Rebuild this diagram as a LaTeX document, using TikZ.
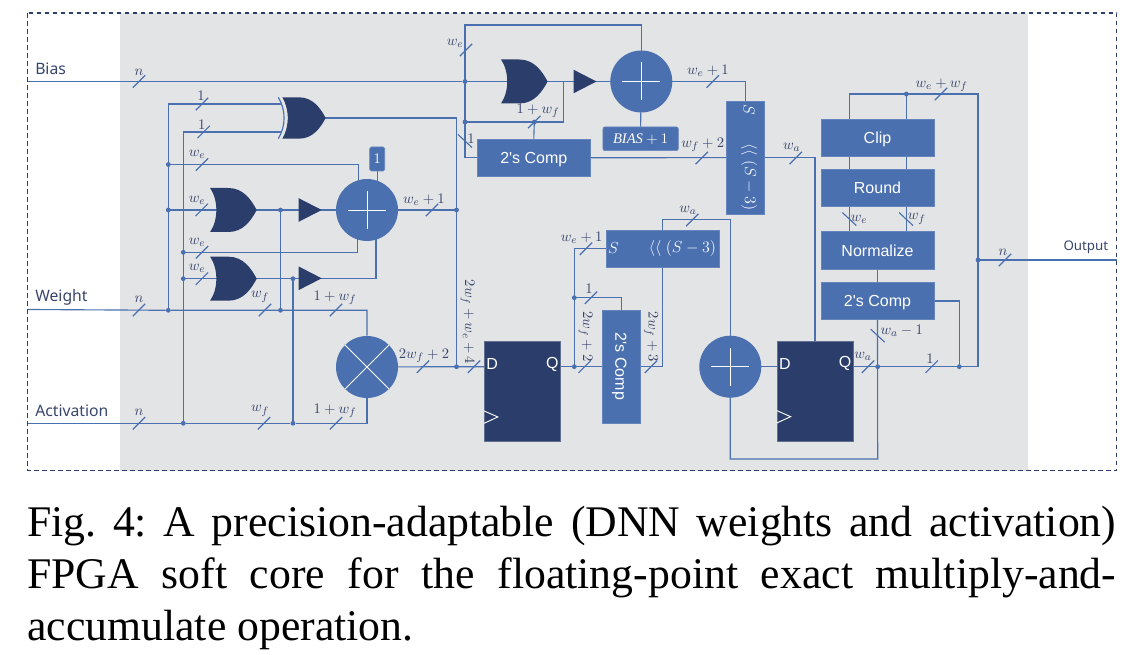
\documentclass[tikz,border=0pt]{standalone}
\usepackage{fontspec}
\setmainfont{Liberation Serif}
\newfontfamily\boxfont{Liberation Sans}
\newfontfamily\portfont{Noto Sans}
\usetikzlibrary{calc}
\definecolor{wireblue}{HTML}{4A70B0}
\definecolor{navy}{HTML}{2B3D6B}
\definecolor{panel}{HTML}{E3E4E6}
\definecolor{inktext}{HTML}{38456B}
\pgfdeclarelayer{bg}
\pgfsetlayers{bg,main}
\newcounter{labno}
\newcommand{\buslabel}[3]{\stepcounter{labno}\node[lbl] (lab\arabic{labno}) at (#1,#2) {$#3$};}
\newcommand{\rotlabel}[3]{\stepcounter{labno}\node[lbl,rotate=-90] (lab\arabic{labno}) at (#1,#2) {$#3$};}
\newcommand{\fw}[2]{\draw[tick] (#1,#2) +(-6.2,6.2) -- +(6.2,-6.2);}
\newcommand{\bw}[2]{\draw[tick] (#1,#2) +(-7,-6.5) -- +(7,6.5);}
\newcommand{\orgate}[3]{\node[gatebox] (#1) at (#2,#3) {};
  \fill[navy,shift={(#1.center)}] (-23.3,-22) -- (-5,-22) .. controls (10,-22) and (18,-10) .. (23.3,0)
    .. controls (18,10) and (10,22) .. (-5,22) -- (-23.3,22) .. controls (-15,10) and (-15,-10) .. (-23.3,-22) -- cycle;}
\newcommand{\buffer}[3]{\coordinate (#1) at (#2,#3);
  \fill[navy] (#1) +(-11.5,-11.8) -- +(11.5,0) -- +(-11.5,11.8) -- cycle;}
\newcommand{\addernode}[3]{\node[roundop] (#1) at (#2,#3) {};
  \draw[glyph] (#1.center) +(-19,0) -- +(19,0) (#1.center) +(0,-19) -- +(0,19);}
\newcommand{\flipflop}[3]{\node[ffbox] (#1) at (#2,#3) {};
  \node[ffpin,anchor=west] (#1d) at ($(#1.north west)+(2,22.5)$) {D};
  \node[ffpin,anchor=east] (#1q) at ($(#1.north east)+(-1.5,22.5)$) {Q};
  \draw[glyph] ($(#1.south west)+(0,-31)$) -- ($(#1.south west)+(13.7,-25)$) -- ($(#1.south west)+(0,-18.7)$);}
\tikzset{
  wire/.style={draw=wireblue,line width=0.85pt},
  tick/.style={draw=wireblue,line width=0.85pt},
  dot/.style={circle,fill=wireblue,inner sep=0pt,minimum size=3.6pt},
  lbl/.style={inner sep=0pt,text=inktext,font=\fontsize{10.95}{13}\selectfont},
  mathwhite/.style={inner sep=0pt,text=white,font=\fontsize{12}{14}\selectfont},
  bluebox/.style={rectangle,fill=wireblue,draw=wireblue!85!white,line width=0.5pt,inner sep=0pt,text=white,
     font=\boxfont\fontsize{12}{14}\selectfont},
  blockh/.style={bluebox,minimum width=84.75pt,minimum height=28.2pt,text height=8.6pt,text depth=0pt},
  blockv/.style={bluebox,minimum width=28.2pt,minimum height=84.75pt},
  roundop/.style={circle,fill=wireblue,inner sep=0pt,minimum size=46.5pt},
  glyph/.style={draw=white,line width=0.7pt},
  gatebox/.style={rectangle,inner sep=0pt,minimum width=35pt,minimum height=33pt},
  ffbox/.style={rectangle,fill=navy,draw=navy!70!panel,line width=0.4pt,inner sep=0pt,minimum width=56.7pt,minimum height=75pt},
  ffpin/.style={inner sep=0pt,text=white,font=\boxfont\fontsize{12}{14}\selectfont},
  port/.style={inner sep=0pt,text=inktext,font=\portfont\fontsize{11.8}{14}\selectfont},
}
\begin{document}
\begin{tikzpicture}[x=0.75pt,y=-0.75pt]
\useasboundingbox (0,0) rectangle (1140,655);
% named elements
\coordinate (inB) at (28,81.5);
\coordinate (inW) at (28,309.5);
\coordinate (inA) at (28,423.3);
\coordinate (outP) at (1116.7,260);
\coordinate (xinA) at (287,104);
\coordinate (xinB) at (287,132);
\coordinate (tl) at (849.7,94);
\coordinate (topB) at (465,25);
\coordinate (brO) at (563.7,81.5);
\coordinate (fb) at (877.7,459);
% junctions
\foreach \n/\a/\b in {dWa/168.3/310.3,dWb/280.5/310.3,dAa/183.3/423.3,dAb/293/423.3,
  dXa/168.3/164.5,dOa/168.3/210,dXb/183.3/252.3,dOb/183.3/278.7,dOaO/280.5/210,dObO/293/278.7,
  dAdd/456.5/210,dMul/456.5/366.7,dBa/465/81.5,dBb/465/122,dC/534.3/122,
  dQa/574.3/366.7,dQb/574.3/297.7,dT/906.3/94,dRa/877.7/366.7,dRb/959.3/366.7,dO/978/260}
  {\node[dot] (\n) at (\a,\b) {};}
% gates
\node[gatebox] (xor) at (303.7,118) {};
\fill[navy,shift={(xor.center)},xscale=0.944,yscale=0.94] (-23.3,-22) -- (-5,-22) .. controls (10,-22) and (18,-10) .. (23.3,0)
    .. controls (18,10) and (10,22) .. (-5,22) -- (-23.3,22) .. controls (-15,10) and (-15,-10) .. (-23.3,-22) -- cycle;
\orgate{orA}{233.4}{210}
\orgate{orB}{233.4}{278.7}
\orgate{orC}{524.3}{81.5}
\buffer{trA}{310.2}{210}
\buffer{trB}{310.2}{278.3}
\buffer{trC}{585}{81.5}
\addernode{addA}{367}{210}
\addernode{addB}{641.3}{81.5}
\addernode{addC}{730.3}{366.7}
\node[roundop] (mul) at (367,367) {};
\draw[glyph] (mul.north west) -- (mul.south east) (mul.north east) -- (mul.south west);
\flipflop{ffA}{522.2}{391.7}
\flipflop{ffB}{815}{391.4}
% blocks
\node[blockh] (cmpA) at (533.8,157.8) {2's Comp};
\node[blockv] (cmpB) at (621.2,366.4) {};
\node[inner sep=0pt,text=white,font=\boxfont\fontsize{12}{14}\selectfont,rotate=-90,text height=8.6pt,text depth=0pt] (cmpBt) at (621.2,366.4) {2's Comp};
\node[blockh] (clip) at (877.5,137.8) {Clip};
\node[blockh] (round) at (877.5,187.8) {Round};
\node[blockh] (norm) at (877.5,250.6) {Normalize};
\node[blockh] (cmpC) at (877.5,301) {2's Comp};
\node[blockh] (shH) at (662.5,248.8) {};
\node[mathwhite] (shHs) at (613.5,248.5) {$S$};
\node[mathwhite] (shHt) at (682.5,248.5) {$\langle\langle\;(S-3)$};
\node[blockv] (shV) at (745.5,157.6) {};
\node[mathwhite,rotate=-90] (shVs) at (749,110) {$S$};
\node[mathwhite,rotate=-90] (shVt) at (749,177) {$\langle\langle\;(S-3)$};
\node[bluebox,rounded corners=1.5pt,minimum width=56.5pt,minimum height=17.8pt,font=\fontsize{10.95}{13}\selectfont] (bias) at (640.6,138.8) {$\mathit{BIAS}+1$};
\node[bluebox,rounded corners=1.2pt,minimum width=11.2pt,minimum height=18pt,font=\fontsize{10.95}{13}\selectfont] (one) at (377.2,159) {$1$};
% port names
\node[port,anchor=west] (pBias) at (35,68.5) {Bias};
\node[port,anchor=west] (pWeight) at (35,297) {Weight};
\node[port,anchor=west] (pAct) at (35,411) {Activation};
\node[port,anchor=east,font=\portfont\fontsize{10}{12}\selectfont] (pOut) at (1108.5,247) {Output};
% XOR input arc, above wires
\draw[draw=panel,line width=3pt] (280,97.3) .. controls (287.5,110) and (287.5,126) .. (280,138.7);
\draw[wire] (278.3,97.3) .. controls (286,110) and (286,126) .. (278.3,138.7);
\begin{pgfonlayer}{bg}
\fill[panel] (120,13) rectangle (1027.7,470.7);
\draw[navy,line width=0.85pt,dash pattern=on 3.4pt off 2.6pt] (27.7,13) rectangle (1116.7,470.7);
% left inputs
\draw[wire] (inW) -- (dWa) -- (dWb) -| (mul);
\draw[wire] (inA) -- (dAa) -- (dAb) -| (mul);
\draw[wire] (inB) -- (dBa);
\draw[wire] (dWa.center) |- (xinA);
\draw[wire] (dAa.center) |- (xinB);
\draw[wire] (xor.center) -| (dMul.center);
\draw[wire] (dXa.center) -| ($(addA.center)+(-8.7,0)$);
\draw[wire] (dXb.center) -| ($(addA.center)+(-9.7,0)$);
\draw[wire] (dOa.center) -- (orA.center) -- (trA) -- (addA.center) -- (dAdd.center);
\draw[wire] (dOaO.center) -- (dWb.center);
\draw[wire] (dOb.center) -- (orB.center) -- (trB |- orB.center) -| ($(addA.center)+(9,0)$);
\draw[wire] (dObO.center) -- (dAb.center);
\draw[wire] (one.south) -- (one.south |- addA.center);
\draw[wire] (mul.center) -- (dMul.center) -- (dMul -| ffA.west);
% top section
\draw[wire] (dBa.center) -- (orC.center) -- (trC) -- (addB.center);
\draw[wire] (dBa.center) -- (topB) -| (addB.center);
\draw[wire] (dBa.center) -- (dBb.center) |- (cmpA.west);
\draw[wire] (brO) |- (dBb.center);
\draw[wire] (dC.center) -- (cmpA.north);
\draw[wire] (addB.center) -- (bias.north);
\draw[wire] (addB.center) -| (shV.north);
\draw[wire] (cmpA.east) -- (shV.west);
\draw[wire] (shV.east) -| (ffB.north);
% middle
\draw[wire] (dQa -| ffA.east) -- (dQa.center) -- (dQa -| cmpB.west);
\draw[wire] (dQa.center) |- (shH.west);
\draw[wire] (dQb.center) -| (cmpB.north);
\draw[wire] (cmpB.east) -| (shH.south);
\draw[wire] (shH.north) -- ++(0,-10) -| (addC.center);
\draw[wire] (addC.center) -- (addC -| ffB.west);
% right
\draw[wire] (dRa -| ffB.east) -- (dRa.center) -- (dRb.center) -| (dO.center);
\draw[wire] (dO.center) |- (tl) -- (tl |- norm.north);
\draw[wire] (dT.center) -- (dT |- norm.north);
\draw[wire] (norm.south) -- (cmpC.north);
\draw[wire] (cmpC.south) -- (fb) -| (addC.center);
\draw[wire] (cmpC.east) -| (dRb.center);
\draw[wire] (dO.center) -- (outP);
\end{pgfonlayer}
% bus ticks and labels
\fw{139}{81.5}\buslabel{139}{72}{n}
\fw{139}{310}\buslabel{139}{299}{n}
\fw{139}{423.3}\buslabel{139}{412}{n}
\fw{202}{104}\buslabel{201}{96}{1}
\fw{203.7}{132}\buslabel{201.7}{125}{1}
\fw{202}{164.5}\buslabel{197}{154}{w_e}
\fw{201.7}{210}\buslabel{197}{200}{w_e}
\fw{202}{252.3}\buslabel{197}{242}{w_e}
\fw{202}{278.7}\buslabel{197}{268}{w_e}
\fw{265}{310}\buslabel{260}{297}{w_f}
\fw{336}{310}\buslabel{335}{298}{1+w_f}
\fw{264}{423.3}\buslabel{260}{411}{w_f}
\fw{336}{423.3}\buslabel{335}{411}{1+w_f}
\fw{432}{210}\buslabel{424}{200}{w_e+1}
\fw{423}{366.7}\buslabel{424}{356}{2w_f+2}
\fw{474}{366.7}\rotlabel{467.5}{322}{2w_f+w_e+4}
\fw{466}{50}\buslabel{455}{43}{w_e}
\bw{465}{141}\buslabel{471}{139}{1}
\fw{534.3}{122}\buslabel{538}{111}{1+w_f}
\fw{712.7}{81.5}\buslabel{708}{71}{w_e+1}
\fw{701.7}{158}\buslabel{702.7}{145}{w_f+2}
\fw{795.7}{158}\buslabel{791.7}{147}{w_a}
\fw{692.3}{220}\buslabel{688}{210}{w_a}
\fw{586}{248.7}\buslabel{581.7}{238}{w_e+1}
\fw{591}{297.7}\buslabel{589}{289}{1}
\fw{584.7}{366.7}\rotlabel{585.5}{336.5}{2w_f+2}
\fw{651}{366.7}\rotlabel{651}{337}{2w_f+3}
\fw{941}{94}\buslabel{941.7}{85}{w_e+w_f}
\bw{849.3}{219}\buslabel{859}{219}{w_e}
\bw{906}{219}\buslabel{916.7}{219}{w_f}
\bw{877.7}{335.7}\buslabel{901.7}{331}{w_a-1}
\fw{868}{366.7}\buslabel{863}{356}{w_a}
\fw{931.7}{366.7}\buslabel{930}{359}{1}
\fw{1005}{260}\buslabel{1003}{252}{n}
% caption
\node[anchor=north west,inner sep=0pt,text width=816.75pt,align=justify,text=black,
      font=\fontsize{32.8}{39}\selectfont\frenchspacing] (caption) at (27,506)
  {Fig. 4: A precision-adaptable (DNN weights and activation)\linebreak
   FPGA soft core for the floating-point exact multiply-and-\linebreak
   accumulate operation.};
\end{tikzpicture}
\end{document}
